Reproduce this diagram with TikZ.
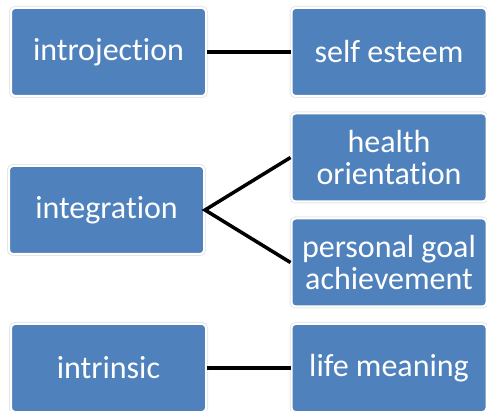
\documentclass[tikz,border=0pt]{standalone}
\usepackage{fontspec}
\setmainfont{Carlito}[RawFeature={-liga;-clig;-calt;-dlig}]
\usetikzlibrary{calc, backgrounds, arrows.meta}
\definecolor{boxblue}{HTML}{4F81BD}
\definecolor{rimgray}{HTML}{E6E6E6}

\begin{document}
\begin{tikzpicture}[x=1pt, y=-1pt]

% --- STYLES ---
\tikzset{
    item/.style={
        rectangle, rounded corners=4pt,
        fill=boxblue, draw=white, line width=2pt,
        preaction={draw=rimgray, line width=4pt},
        text=white, align=center,
        font=\fontsize{32}{32}\selectfont,
        minimum width=195pt, minimum height=88pt,
        inner sep=0pt
    },
    link/.style={black, line width=3.5pt}
}

% --- FRAME ---
\useasboundingbox (0,0) rectangle (487,411);

% --- LEFT COLUMN ---
\node[item] (introj) at (108.5,52)  {introjection};
\node[item] (integ)  at (106.5,210) {integration};
\node[item] (intrin) at (108.5,368) {intrinsic};

% --- RIGHT COLUMN ---
\node[item] (esteem) at (389,52)    {self esteem};
\node[item] (health) at (389,157.5) {health\\orientation};
\node[item] (goal)   at (389,262.5) {personal goal\\achievement};
\node[item] (mean)   at (389,368)   {life meaning};

% --- LINKS ---
\draw[link] (introj.east) -- (esteem.west);
\draw[link] (health.west) -- (integ.east) -- (goal.west);
\draw[link] (intrin.east) -- (mean.west);

\end{tikzpicture}
\end{document}
